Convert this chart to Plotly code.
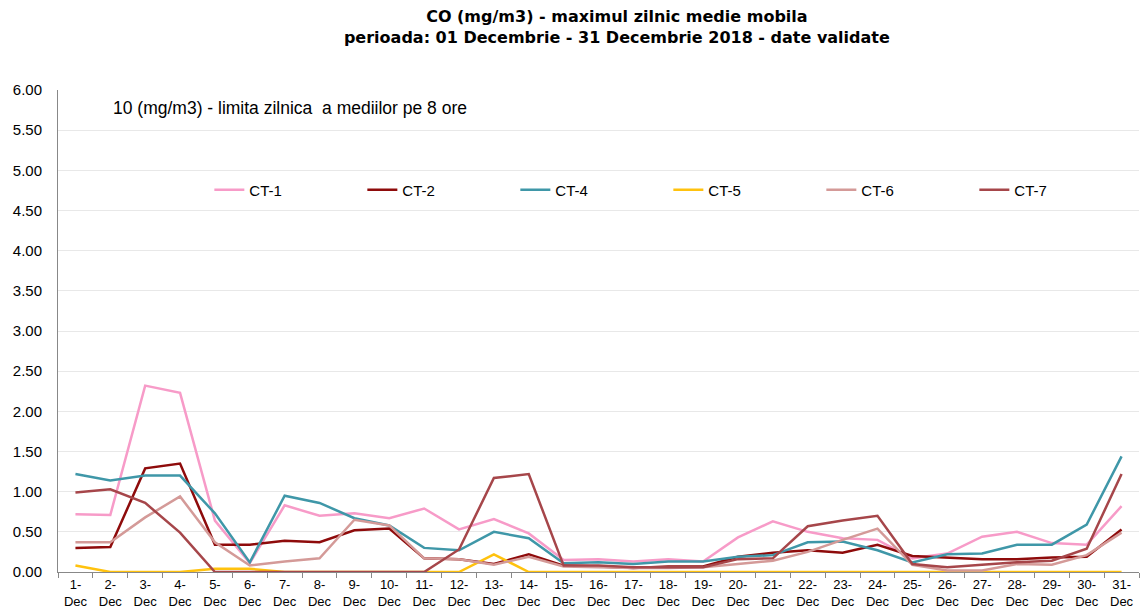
import plotly.graph_objects as go

days = [f"{d}-Dec" for d in range(1, 32)]
tick_text = [d.replace("-", "-<br>") for d in days]

ct1 = [0.72, 0.71, 2.32, 2.23, 0.64, 0.11, 0.83, 0.70, 0.73, 0.67,
       0.79, 0.53, 0.66, 0.48, 0.15, 0.16, 0.13, 0.16, 0.13, 0.43,
       0.63, 0.50, 0.42, 0.40, 0.17, 0.23, 0.44, 0.50, 0.36, 0.34, 0.82]
ct2 = [0.30, 0.31, 1.29, 1.35, 0.34, 0.34, 0.39, 0.37, 0.52, 0.54,
       0.17, 0.16, 0.10, 0.22, 0.08, 0.07, 0.05, 0.07, 0.07, 0.19,
       0.24, 0.27, 0.24, 0.34, 0.20, 0.18, 0.16, 0.16, 0.18, 0.19, 0.53]
ct4 = [1.22, 1.14, 1.20, 1.20, 0.73, 0.12, 0.95, 0.86, 0.67, 0.58,
       0.30, 0.27, 0.50, 0.42, 0.11, 0.12, 0.10, 0.13, 0.13, 0.19,
       0.21, 0.37, 0.38, 0.27, 0.12, 0.22, 0.23, 0.34, 0.34, 0.59, 1.44]
ct5 = [0.08, 0.00, 0.00, 0.00, 0.04, 0.04, 0.00, 0.00, 0.00, 0.00,
       0.00, 0.00, 0.22, 0.00, 0.00, 0.00, 0.00, 0.00, 0.00, 0.00,
       0.00, 0.00, 0.00, 0.00, 0.00, 0.00, 0.00, 0.00, 0.00, 0.00, 0.00]
ct6 = [0.37, 0.37, 0.68, 0.94, 0.37, 0.08, 0.13, 0.17, 0.65, 0.58,
       0.17, 0.16, 0.09, 0.19, 0.07, 0.06, 0.05, 0.05, 0.06, 0.10,
       0.14, 0.25, 0.40, 0.54, 0.09, 0.02, 0.02, 0.10, 0.09, 0.21, 0.49]
ct7 = [0.99, 1.03, 0.86, 0.49, 0.00, 0.00, 0.00, 0.00, 0.00, 0.00,
       0.00, 0.28, 1.17, 1.22, 0.08, 0.08, 0.06, 0.06, 0.06, 0.16,
       0.17, 0.57, 0.64, 0.70, 0.10, 0.06, 0.09, 0.12, 0.14, 0.29, 1.22]

y_ticks = [0, 0.5, 1, 1.5, 2, 2.5, 3, 3.5, 4, 4.5, 5, 5.5, 6]

series = [
    ("CT-1", ct1, "#F79BC8"),
    ("CT-2", ct2, "#8E0B0B"),
    ("CT-4", ct4, "#3F97A8"),
    ("CT-5", ct5, "#FFC20E"),
    ("CT-6", ct6, "#D49A98"),
    ("CT-7", ct7, "#A6464A"),
]

fig = go.Figure()
for name, vals, col in series:
    fig.add_trace(go.Scatter(x=days, y=vals, name=name, mode="lines",
                             line=dict(color=col, width=2.5)))

fig.update_layout(
    width=1141, height=615,
    margin=dict(l=58, r=2, t=90, b=43),
    paper_bgcolor="white", plot_bgcolor="white",
    font=dict(family="Arial, Liberation Sans", size=13, color="#000000"),
    title=dict(
        text="<b>CO (mg/m3) - maximul zilnic medie mobila<br>perioada: 01 Decembrie - 31 Decembrie 2018 - date validate</b>",
        x=0.517, xanchor="center", xref="paper",
        y=1 - 22 / 615, yanchor="middle", yref="container",
        font=dict(family="DejaVu Sans", size=16, color="#000000"),
    ),
    showlegend=True,
    legend=dict(orientation="h", x=0.14, xanchor="left", y=0.7925, yanchor="middle",
                entrywidth=108, entrywidthmode="pixels",
                font=dict(family="Arial, Liberation Sans", size=15),
                itemwidth=30, bgcolor="rgba(0,0,0,0)", traceorder="normal"),
    xaxis=dict(
        type="category", range=[-0.5, 30.5],
        tickmode="array", tickvals=days, ticktext=tick_text,
        tickson="boundaries", ticks="outside", ticklen=5, tickcolor="#888888",
        ticklabelstandoff=0,
        showline=True, linecolor="#888888", linewidth=1,
        showgrid=False, automargin=False,
        tickfont=dict(family="Arial, Liberation Sans", size=13),
    ),
    yaxis=dict(
        range=[0, 6], tickmode="array", tickvals=y_ticks,
        ticktext=[f"{v:.2f}" for v in y_ticks],
        showgrid=True, gridcolor="#E8E8E8", gridwidth=1,
        showline=True, linecolor="#888888", linewidth=1,
        ticks="", zeroline=False, automargin=False,
        ticklabelstandoff=12,
        tickfont=dict(family="Arial, Liberation Sans", size=15),
    ),
    annotations=[dict(
        text="10 (mg/m3) - limita zilnica  a mediilor pe 8 ore",
        xref="paper", yref="paper", x=0.049, y=0.963,
        xanchor="left", yanchor="middle", showarrow=False,
        font=dict(family="Arial, Liberation Sans", size=17.5, color="#000000"),
    )],
)

fig.write_html("out.html", config={"displayModeBar": False},
               post_script="document.body.style.margin='0px';document.body.style.overflow='hidden';")
